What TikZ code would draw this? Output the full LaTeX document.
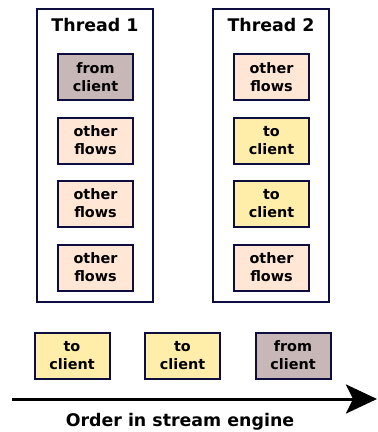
\documentclass[tikz,border=0pt]{standalone}
\usepackage{fontspec}
\setmainfont{DejaVu Sans}
\usetikzlibrary{arrows.meta}
\definecolor{edge}{HTML}{0D0D40}
\definecolor{fromc}{HTML}{C8B7B7}
\definecolor{otherc}{HTML}{FFE6D5}
\definecolor{toc}{HTML}{FFEEAA}
\tikzset{
  thread/.style={draw=edge, line width=2pt, minimum width=116pt, minimum height=293pt, inner sep=0pt},
  flowbox/.style={draw=edge, line width=2pt, minimum width=75pt, minimum height=46pt, inner sep=0pt, align=center,
    font=\fontsize{14.4}{18}\selectfont\bfseries},
  fromflow/.style={flowbox, fill=fromc},
  otherflow/.style={flowbox, fill=otherc},
  toflow/.style={flowbox, fill=toc},
  title/.style={font=\fontsize{17.4}{20}\selectfont\bfseries, inner sep=0pt},
}
\begin{document}
\begin{tikzpicture}[x=1pt,y=-1pt]
\useasboundingbox (0,0) rectangle (378,432);
\node[thread] (t1) at (95,155.5) {};
\node[thread] (t2) at (271,155.5) {};
\node[title] (t1title) at (95,25.5) {Thread 1};
\node[title] (t2title) at (271,25.5) {Thread 2};

\node[fromflow]  (a1) at (95.5,77)    {from\\client};
\node[otherflow] (a2) at (95.5,140.5) {other\\flows};
\node[otherflow] (a3) at (95.5,203.5) {other\\flows};
\node[otherflow] (a4) at (95.5,267.5) {other\\flows};

\node[otherflow] (b1) at (271.5,77)    {other\\flows};
\node[toflow]    (b2) at (271.5,140.5) {to\\client};
\node[toflow]    (b3) at (271.5,203.5) {to\\client};
\node[otherflow] (b4) at (271.5,267.5) {other\\flows};

\node[toflow]   (c1) at (72,355.5)  {to\\client};
\node[toflow]   (c2) at (182.5,355.5) {to\\client};
\node[fromflow] (c3) at (293,355.5) {from\\client};

\coordinate (s) at (12,399);
\coordinate (e) at (377,399);
\draw[line width=3pt, -{Stealth[length=31pt,width=29pt,inset=7pt]}] (s) -- (e);
\node[title] (order) at (180,422) {Order in stream engine};
\end{tikzpicture}
\end{document}
